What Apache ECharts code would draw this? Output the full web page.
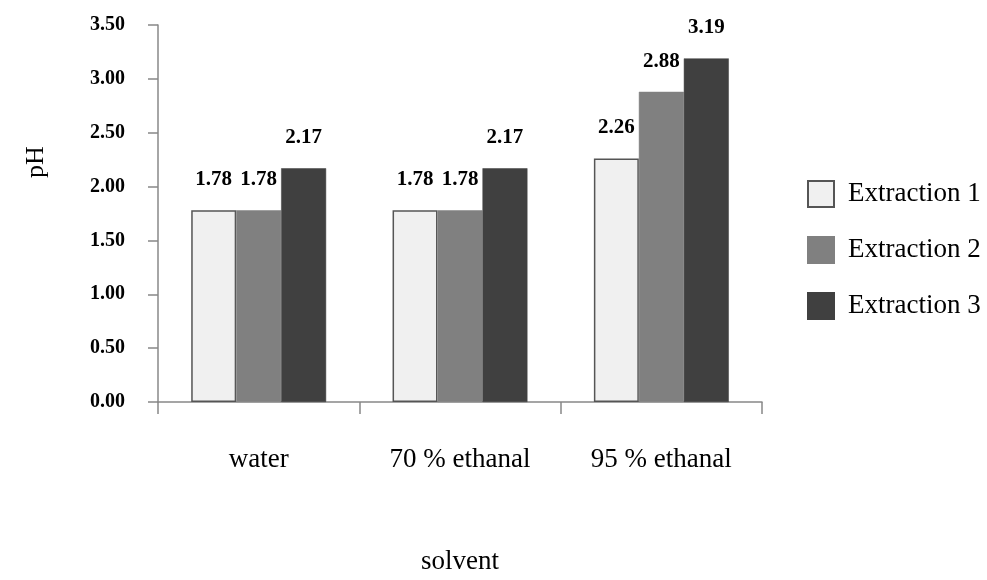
<!DOCTYPE html>
<html>
<head>
<meta charset="utf-8">
<script src="https://cdn.jsdelivr.net/npm/echarts@6/dist/echarts.min.js"></script>
<style>html,body{margin:0;padding:0;background:#fff}#c{width:987px;height:580px}</style>
</head>
<body>
<div id="c"></div>
<script>
const categories = ['water', '70 % ethanal', '95 % ethanal'];
const extraction1 = [1.78, 1.78, 2.26];
const extraction2 = [1.78, 1.78, 2.88];
const extraction3 = [2.17, 2.17, 3.19];
const seriesNames = ['Extraction 1', 'Extraction 2', 'Extraction 3'];
const yTicks = { min: 0, max: 3.5, interval: 0.5 };
const xTitle = 'solvent';
const yTitle = 'pH';

const FONT = '"Liberation Serif", "Times New Roman", serif';
const chart = echarts.init(document.getElementById('c'), null, { renderer: 'canvas' });

const labelCfg = {
  show: true, position: 'top', distance: 20,
  fontFamily: FONT, fontWeight: 'bold', fontSize: 21, color: '#000',
  formatter: p => p.value.toFixed(2)
};
const fills = ['#f0f0f0', '#808080', '#404040'];
const borders = ['#555555', '#808080', '#404040'];
const datas = [extraction1, extraction2, extraction3];

chart.setOption({
  animation: false,
  grid: { left: 158, right: 225, top: 25, bottom: 163 },
  legend: {
    orient: 'vertical', left: 802, top: 175, icon: 'rect',
    itemWidth: 26, itemHeight: 26, itemGap: 28,
    textStyle: { fontFamily: FONT, fontSize: 27, color: '#000', padding: [0, 0, 0, 9] },
    data: seriesNames
  },
  graphic: [{
    type: 'text', x: 36, y: 162, rotation: Math.PI / 2,
    style: { text: yTitle, fontFamily: FONT, fontSize: 26, fill: '#000', align: 'center', verticalAlign: 'middle' }
  }],
  xAxis: {
    type: 'category', data: categories,
    name: xTitle, nameLocation: 'middle', nameGap: 146,
    nameTextStyle: { fontFamily: FONT, fontSize: 27, color: '#000' },
    axisLine: { lineStyle: { color: '#888', width: 1.5 } },
    axisTick: { show: true, length: 12, lineStyle: { color: '#888', width: 1.5 } },
    axisLabel: { margin: 44, fontFamily: FONT, fontSize: 27, color: '#000' }
  },
  yAxis: {
    type: 'value', min: yTicks.min, max: yTicks.max, interval: yTicks.interval,
    axisLine: { show: true, lineStyle: { color: '#888', width: 1.5 } },
    axisTick: { show: true, length: 10, lineStyle: { color: '#888', width: 1.5 } },
    splitLine: { show: false },
    axisLabel: { margin: 33, fontFamily: FONT, fontWeight: 'bold', fontSize: 20, color: '#000',
      formatter: v => v.toFixed(2) }
  },
  series: seriesNames.map((n, i) => ({
    name: n, type: 'bar', data: datas[i],
    barGap: '0%', barCategoryGap: '33%',
    itemStyle: { color: fills[i], borderColor: borders[i], borderWidth: i === 0 ? 1.5 : 0.5 },
    label: labelCfg
  }))
});
</script>
</body>
</html>
